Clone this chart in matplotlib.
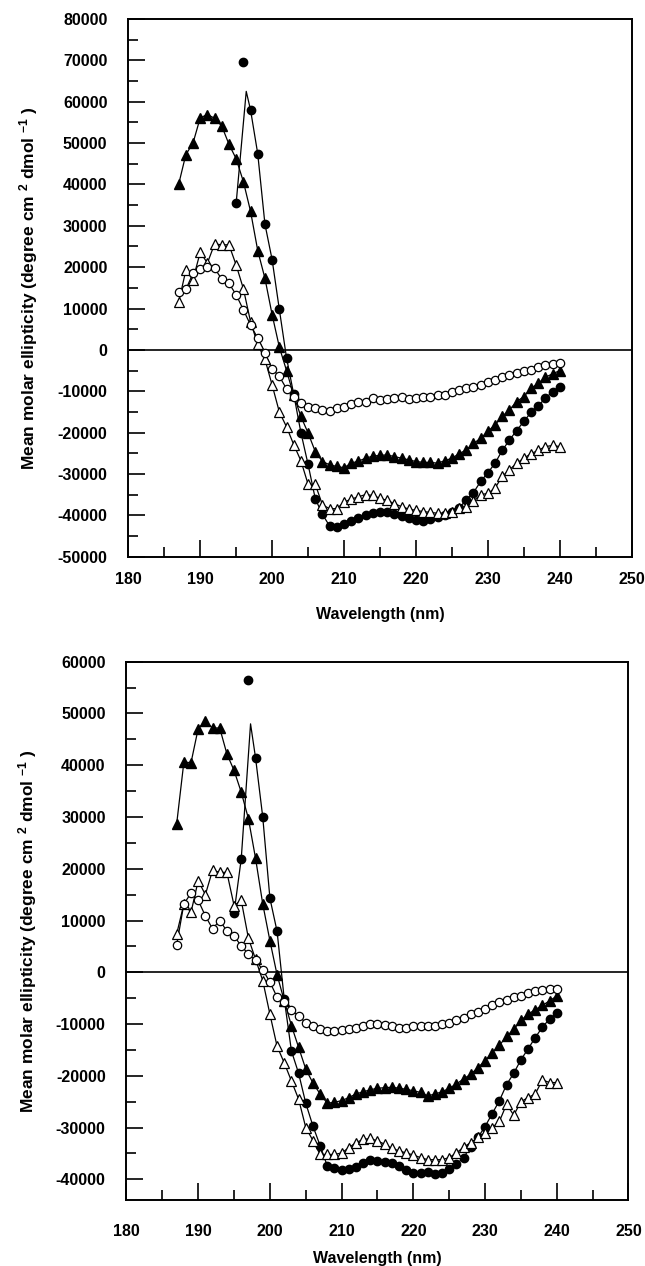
import numpy as np
import matplotlib
matplotlib.use("Agg")
import matplotlib.pyplot as plt
from matplotlib.ticker import MultipleLocator

plt.rcParams['font.family'] = ['Liberation Sans', 'DejaVu Sans']
plt.rcParams['font.weight'] = 'bold'
plt.rcParams['axes.unicode_minus'] = False
plt.rcParams['mathtext.fontset'] = 'custom'
plt.rcParams['mathtext.default'] = 'bf'
plt.rcParams['mathtext.bf'] = 'Liberation Sans:bold'
plt.rcParams['mathtext.rm'] = 'Liberation Sans:bold'

# wavelength grid (nm)
wl = np.arange(187, 241)
wl_fc = np.arange(195, 241)

# ---- top panel ----
oc_top = [13900, 14600, 18500, 19500, 20100, 19700, 17100, 16100, 13300, 9700,
          6000, 2800, -800, -4600, -6400, -9400, -11300, -12900, -13700, -14100,
          -14500, -14700, -14100, -13900, -13100, -12700, -12500, -11700, -12100, -11800,
          -11700, -11400, -11800, -11700, -11400, -11300, -11000, -10900, -10300, -9800,
          -9300, -8900, -8500, -7700, -7300, -6600, -6000, -5600, -5100, -4800,
          -4200, -3700, -3400, -3100]
ot_top = [11500, 19200, 17000, 23600, 21000, 25600, 25400, 25400, 20500, 14800,
          6800, 1300, -2300, -8500, -15000, -18600, -22900, -26800, -32500, -32500,
          -37500, -38400, -38400, -36800, -36100, -35500, -35000, -35200, -35900, -36400,
          -37200, -37900, -38500, -38800, -39100, -39300, -39500, -39500, -39100, -38300,
          -37900, -36500, -35000, -34700, -33400, -30600, -29000, -27400, -26200, -25100,
          -24300, -23400, -23100, -23400]
ft_top = [40000, 47200, 50000, 56100, 56900, 56000, 54100, 49700, 46200, 40700,
          33500, 24000, 17300, 8500, 700, -5000, -11000, -16100, -20100, -24600,
          -27000, -27800, -28200, -28500, -27400, -26900, -26200, -25700, -25500, -25400,
          -25800, -26200, -26600, -27000, -27200, -27200, -27400, -26800, -26200, -25100,
          -24200, -22600, -21400, -19700, -18100, -16100, -14500, -12500, -11300, -9300,
          -8100, -6600, -5800, -5000]
fc_top = [35500, 69500, 58000, 47400, 30400, 21800, 9800, -1900, -10700, -20000,
          -27700, -36000, -39800, -42600, -42800, -42200, -41400, -40600, -40000, -39400,
          -39100, -39100, -39600, -40100, -40700, -41100, -41300, -40900, -40400, -39900,
          -39300, -38200, -36300, -34500, -31800, -29700, -27400, -24300, -21800, -19500,
          -17300, -15100, -13500, -11700, -10100, -9000]
# smoothed curve peak of the filled-circle trace (curve misses the 196 nm point)
fc_top_peak = (196.4, 62500)

# ---- bottom panel ----
oc_bot = [5300, 13200, 15300, 13900, 10900, 8400, 10000, 8000, 7000, 5100,
          3500, 2300, 500, -1900, -4800, -5800, -7200, -8500, -9700, -10300,
          -11000, -11300, -11300, -11100, -11000, -10800, -10300, -10000, -10000, -10100,
          -10400, -10800, -10800, -10400, -10400, -10400, -10300, -10000, -9700, -9200,
          -8900, -8100, -7600, -7100, -6300, -5800, -5300, -4800, -4500, -4000,
          -3700, -3500, -3200, -3200]
ot_bot = [7400, 13200, 11600, 17700, 15000, 19700, 19300, 19300, 12900, 13900,
          6600, 2500, -1600, -8100, -14300, -17500, -21000, -24500, -30000, -32500,
          -35200, -35200, -35200, -34900, -33900, -32900, -32300, -32100, -32600, -33200,
          -34000, -34500, -34900, -35300, -35800, -36200, -36200, -36200, -35800, -34900,
          -33800, -32900, -31900, -31000, -30000, -28800, -25500, -27600, -25000, -24200,
          -23500, -20800, -21300, -21300]
ft_bot = [28700, 40600, 40500, 47100, 48500, 47200, 47200, 42200, 39000, 34800,
          29700, 22000, 13200, 6100, -500, -5500, -10300, -14500, -18700, -21400,
          -23500, -25300, -25100, -24800, -24200, -23500, -23100, -22700, -22400, -22300,
          -22200, -22400, -22600, -22900, -23200, -23900, -23500, -23100, -22400, -21600,
          -20600, -19700, -18400, -17100, -15500, -14100, -12400, -11000, -9300, -8100,
          -7200, -6400, -5500, -4600]
fc_bot = [11500, 21900, 56500, 41400, 30000, 14300, 7900, -5200, -15200, -19500,
          -25300, -29700, -33500, -37400, -37900, -38200, -38000, -37600, -36900, -36200,
          -36500, -36600, -36900, -37400, -38100, -38800, -38700, -38600, -38900, -38700,
          -38000, -37100, -35800, -33700, -31900, -29800, -27300, -24800, -21700, -19500,
          -16900, -14800, -12600, -10600, -9000, -7900]
fc_bot_peak = (197.3, 48000)

ylabel = 'Mean molar ellipticity (degree cm $^{2}$ dmol $^{-1}$ )'


def draw_panel(ax, oc, ot, ft, fc, peak, outlier_nm, ylim, yticks, tick_pad, xlab_y):
    # curve of filled circles: outlier point replaced by the smoothed peak
    xs = [x for x in wl_fc if x != outlier_nm]
    ys = [y for x, y in zip(wl_fc, fc) if x != outlier_nm]
    i = int(np.searchsorted(xs, peak[0]))
    xs.insert(i, peak[0])
    ys.insert(i, peak[1])

    ax.axhline(0, color='black', lw=1.2, zorder=1)
    ax.plot(wl, oc, color='black', lw=0.9, zorder=2)
    ax.plot(wl, ot, color='black', lw=0.9, zorder=2)
    ax.plot(wl, ft, color='black', lw=0.9, zorder=2)
    ax.plot(xs, ys, color='black', lw=0.9, zorder=2)

    ax.plot(wl, ft, ls='none', marker='^', ms=6.5, mfc='black', mec='black', zorder=3)
    ax.plot(wl_fc, fc, ls='none', marker='o', ms=6, mfc='black', mec='black', zorder=3)
    ax.plot(wl, ot, ls='none', marker='^', ms=6.5, mfc='white', mec='black', mew=0.9, zorder=4)
    ax.plot(wl, oc, ls='none', marker='o', ms=6, mfc='white', mec='black', mew=0.9, zorder=4)

    ax.set_xlim(180, 250)
    ax.set_ylim(*ylim)
    ax.set_xticks(np.arange(180, 251, 10))
    ax.xaxis.set_minor_locator(MultipleLocator(5))
    ax.set_yticks(yticks)
    ax.yaxis.set_minor_locator(MultipleLocator(5000))
    ax.tick_params(which='both', direction='in', top=False, right=False,
                   width=1.2, labelsize=11.5)
    ax.tick_params(which='major', length=12)
    ax.tick_params(which='minor', length=7)
    ax.tick_params(axis='x', which='major', pad=tick_pad)
    ax.tick_params(axis='y', which='major', pad=15)
    for lab in ax.get_xticklabels() + ax.get_yticklabels():
        lab.set_fontweight('bold')
    for sp in ax.spines.values():
        sp.set_linewidth(1.4)

    ax.set_xlabel('Wavelength (nm)', fontsize=11.5, fontweight='bold')
    ax.xaxis.set_label_coords(0.5, xlab_y)
    ax.set_ylabel(ylabel, fontsize=12.5, fontweight='bold')
    ax.yaxis.set_label_coords(-0.175, 0.5)


fig = plt.figure(figsize=(6.45, 12.66), dpi=100)
ax1 = fig.add_axes([0.1989, 0.5603, 0.7805, 0.4247])
ax2 = fig.add_axes([0.1961, 0.0521, 0.7783, 0.4252])

draw_panel(ax1, oc_top, ot_top, ft_top, fc_top, fc_top_peak, 196,
           (-50000, 80000), np.arange(-50000, 80001, 10000), 11, -0.093)
draw_panel(ax2, oc_bot, ot_bot, ft_bot, fc_bot, fc_bot_peak, 197,
           (-44000, 60000), np.arange(-40000, 60001, 10000), 17, -0.095)

fig.savefig('out.png', dpi=100)
